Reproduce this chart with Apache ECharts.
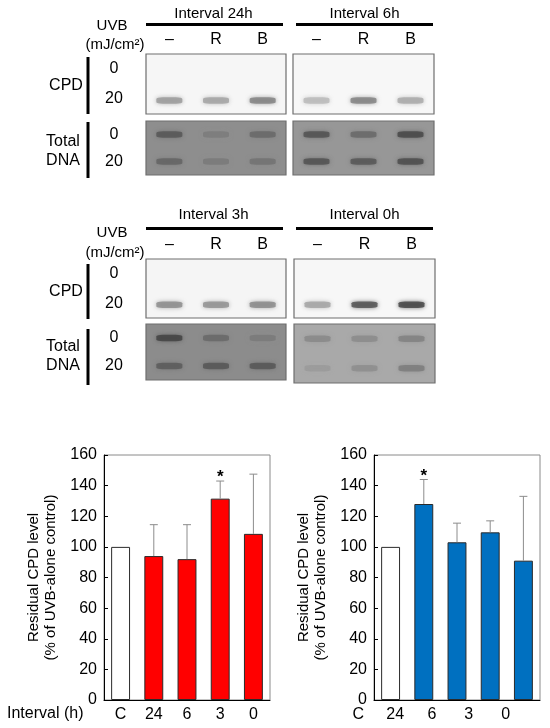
<!DOCTYPE html>
<html><head><meta charset="utf-8">
<script src="https://cdn.jsdelivr.net/npm/echarts@6/dist/echarts.min.js"></script>
<style>html,body{margin:0;padding:0;background:#fff}#c{width:550px;height:728px}</style>
</head><body><div id="c"></div>
<script>
// ---------- data ----------
const intervalTitles = ['Interval 24h', 'Interval 6h', 'Interval 3h', 'Interval 0h'];
const lanes = ['–', 'R', 'B'];
const doseRows = ['20', '0'];           // bottom row first
// band darkness (0 = none, 100 = black), per lane, rows: [dose 20, dose 0]
const cpd24h = [[40, 37, 50], [0, 0, 0]];
const cpd6h  = [[28, 50, 34], [0, 0, 0]];
const cpd3h  = [[46, 44, 47], [0, 0, 0]];
const cpd0h  = [[37, 69, 75], [0, 0, 0]];
const dna24h = [[62, 53, 56], [67, 52, 60]];
const dna6h  = [[69, 67, 71], [69, 60, 73]];
const dna3h  = [[65, 67, 67], [75, 60, 53]];
const dna0h  = [[40, 45, 52], [47, 46, 50]];

const categories = ['C', '24', '6', '3', '0'];
const redMean  = [100, 94, 92, 131.5, 108.5];
const redSD    = [0, 20.5, 22.5, 11.5, 39];
const redSig   = [0, 0, 0, 1, 0];
const blueMean = [100, 128, 103, 109.5, 91];
const blueSD   = [0, 16, 12.5, 7.5, 42];
const blueSig  = [0, 1, 0, 0, 0];
const yTicks = {min: 0, max: 160, interval: 20};

// ---------- layout ----------
const FONT = 'Arial, "Liberation Sans", sans-serif';
const chart = echarts.init(document.getElementById('c'), null, {renderer: 'canvas'});

const blots = [
  {g: {left: 146, top: 54,  width: 140, height: 60}, bands: cpd24h, bg: '#f6f6f6', top: true,  labels: true},
  {g: {left: 293, top: 54,  width: 141, height: 60}, bands: cpd6h,  bg: '#f7f7f7', top: true,  labels: false},
  {g: {left: 146, top: 121, width: 140, height: 54}, bands: dna24h, bg: '#8e8e8e', top: false, labels: true},
  {g: {left: 293, top: 121, width: 141, height: 54}, bands: dna6h,  bg: '#979797', top: false, labels: false},
  {g: {left: 146, top: 259, width: 140, height: 59}, bands: cpd3h,  bg: '#f5f5f5', top: true,  labels: true},
  {g: {left: 294, top: 259, width: 141, height: 59}, bands: cpd0h,  bg: '#f7f7f7', top: true,  labels: false},
  {g: {left: 146, top: 324, width: 140, height: 56}, bands: dna3h,  bg: '#8c8c8c', top: false, labels: true},
  {g: {left: 294, top: 324, width: 141, height: 59}, bands: dna0h,  bg: '#a9a9a9', top: false, labels: false}
];

const grids = [], xAxes = [], yAxes = [], series = [];
function gray(d) { const v = Math.round(255 * (1 - d / 100)); return 'rgb(' + v + ',' + v + ',' + v + ')'; }

blots.forEach((b, i) => {
  grids.push(Object.assign({show: true, backgroundColor: b.bg, borderColor: '#6e6e6e', borderWidth: 1.2}, b.g));
  xAxes.push({type: 'category', gridIndex: i, data: lanes, position: 'top',
    axisLine: {show: false}, axisTick: {show: false},
    axisLabel: {show: b.top, margin: 6, color: '#000', fontSize: 16, fontFamily: FONT}});
  yAxes.push({type: 'category', gridIndex: i, data: doseRows,
    axisLine: {show: false}, axisTick: {show: false},
    axisLabel: {show: b.labels, align: 'center', margin: 32, color: '#000', fontSize: 16, fontFamily: FONT}});
  const pts = [];
  b.bands.forEach((row, r) => row.forEach((d, l) => {
    if (d > 0) pts.push({value: [l, r], itemStyle: {color: gray(d), shadowBlur: 4, shadowColor: gray(d * 0.85)}});
  }));
  series.push({type: 'scatter', xAxisIndex: i, yAxisIndex: i, symbol: 'roundRect',
    symbolSize: [26, 6.5], symbolOffset: [0, b.top ? 1.5 : 0], data: pts, silent: true, animation: false});
});

// bar charts
const barCharts = [
  {g: {left: 104, top: 455, width: 166, height: 245}, mean: redMean, sd: redSD, sig: redSig, color: '#ff0000', labels: true},
  {g: {left: 374, top: 455, width: 166, height: 245}, mean: blueMean, sd: blueSD, sig: blueSig, color: '#0070c0', labels: false}
];
barCharts.forEach((c, k) => {
  const gi = grids.length;
  grids.push(Object.assign({show: true, borderColor: '#8a8a8a', borderWidth: 1, backgroundColor: 'transparent'}, c.g));
  xAxes.push({type: 'category', gridIndex: gi, data: categories,
    axisLine: {lineStyle: {color: '#000', width: 1}}, axisTick: {show: false},
    axisLabel: {show: c.labels, margin: 7, color: '#000', fontSize: 16, fontFamily: FONT}});
  yAxes.push({type: 'value', gridIndex: gi, min: yTicks.min, max: yTicks.max, interval: yTicks.interval,
    splitLine: {show: false},
    axisLine: {show: true, lineStyle: {color: '#000', width: 1}},
    axisTick: {show: true, inside: true, length: 4, lineStyle: {color: '#000'}},
    axisLabel: {margin: 7, color: '#000', fontSize: 16, fontFamily: FONT},
    name: 'Residual CPD level\n(% of UVB-alone control)', nameLocation: 'middle', nameGap: 45,
    nameTextStyle: {color: '#000', fontSize: 15, fontFamily: FONT, lineHeight: 17}});
  series.push({type: 'bar', xAxisIndex: gi, yAxisIndex: gi, barWidth: '57%', animation: false,
    data: c.mean.map((v, j) => ({value: v, itemStyle: {color: j === 0 ? '#ffffff' : c.color, borderColor: '#2a2a2a', borderWidth: 1}}))});
  series.push({type: 'custom', xAxisIndex: gi, yAxisIndex: gi, animation: false, z: 5,
    data: c.mean.map((v, j) => [j, v, v + c.sd[j], c.sig[j]]),
    renderItem: function (params, api) {
      const p0 = api.coord([api.value(0), api.value(1)]);
      const p1 = api.coord([api.value(0), api.value(2)]);
      const children = [];
      if (api.value(2) > api.value(1)) {
        children.push({type: 'line', shape: {x1: p0[0], y1: p0[1], x2: p1[0], y2: p1[1]}, style: {stroke: '#8c8c8c', lineWidth: 1}});
        children.push({type: 'line', shape: {x1: p1[0] - 4, y1: p1[1], x2: p1[0] + 4, y2: p1[1]}, style: {stroke: '#8c8c8c', lineWidth: 1}});
      }
      if (api.value(3)) {
        children.push({type: 'text', style: {text: '*', x: p1[0], y: p1[1] + 5, textAlign: 'center', textVerticalAlign: 'bottom', font: 'bold 17px ' + FONT, fill: '#000'}});
      }
      return {type: 'group', children: children};
    }});
});

// shifted tick labels under the right-hand bar chart (as in the reference)
const lgi = grids.length;
grids.push({left: 340, top: 455, width: 184, height: 245, show: false});
xAxes.push({type: 'category', gridIndex: lgi, data: categories, axisLine: {show: false}, axisTick: {show: false},
  axisLabel: {margin: 7, color: '#000', fontSize: 16, fontFamily: FONT}});
yAxes.push({type: 'value', gridIndex: lgi, show: false, min: 0, max: 1});

// annotations
function txt(t, x, y, size, align) {
  return {type: 'text', silent: true, style: {text: t, x: x, y: y, textAlign: align || 'center', textVerticalAlign: 'middle', font: size + 'px ' + FONT, fill: '#000'}};
}
function ln(x1, y1, x2, y2, w) {
  return {type: 'line', silent: true, shape: {x1: x1, y1: y1, x2: x2, y2: y2}, style: {stroke: '#000', lineWidth: w}};
}
const graphics = [];
[[0, 0], [1, 0], [2, 201], [3, 201]].forEach(([i, dy]) => {
  const left = i % 2 === 0;
  const x1 = left ? 146 : 296, x2 = left ? 283 : 433;
  graphics.push(txt(intervalTitles[i], (x1 + x2) / 2 + (left ? -1 : 0), 14 + dy, 15));
  graphics.push(ln(x1, 24.5 + dy + (dy ? 3 : 0), x2, 24.5 + dy + (dy ? 3 : 0), 3));
});
[[0, 0], [205, 1]].forEach(([dy]) => {
  graphics.push(txt('UVB', 112, 26 + dy + (dy ? 2 : 0), 15));
  graphics.push(txt('(mJ/cm²)', 115, 45 + dy + (dy ? 3 : 0), 15));
});
// row group labels and bars
graphics.push(txt('CPD', 66, 86, 16));
graphics.push(ln(88, 57, 88, 114, 3));
graphics.push(txt('Total', 63, 142, 16));
graphics.push(txt('DNA', 63, 161, 16));
graphics.push(ln(88, 122, 88, 178, 3));
graphics.push(txt('CPD', 66, 292, 16));
graphics.push(ln(88, 264, 88, 319, 3));
graphics.push(txt('Total', 63, 347, 16));
graphics.push(txt('DNA', 63, 366, 16));
graphics.push(ln(88, 329, 88, 385, 3));
graphics.push(txt('Interval (h)', 7, 714, 16, 'left'));

chart.setOption({
  animation: false,
  grid: grids, xAxis: xAxes, yAxis: yAxes, series: series,
  graphic: graphics
});
</script></body></html>
